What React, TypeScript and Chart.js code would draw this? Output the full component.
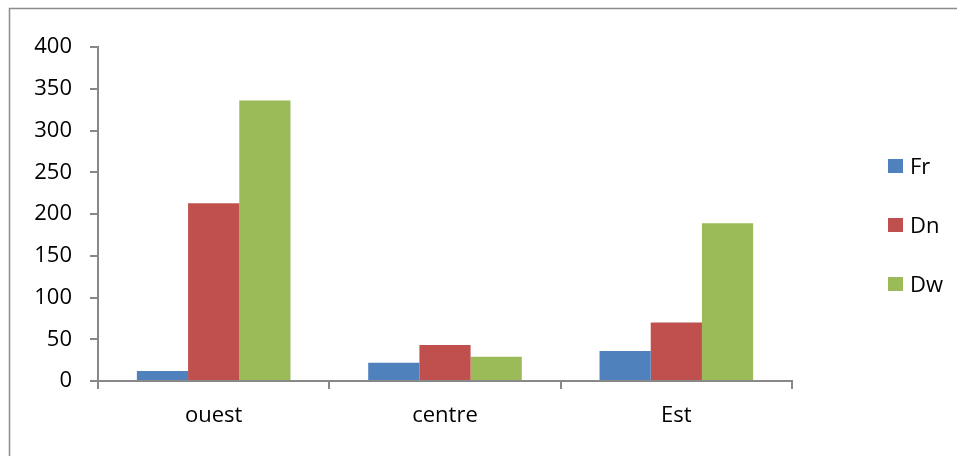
import React, { useEffect, useRef } from "react";
import { Chart, registerables } from "chart.js";

Chart.register(...registerables);

const categories = ["ouest", "centre", "Est"];
const seriesNames = ["Fr", "Dn", "Dw"];
const frValues = [12, 22, 36];
const dnValues = [213, 43, 70];
const dwValues = [336, 29, 189];
const seriesColors = ["#4F81BD", "#C0504D", "#9BBB59"];
const yMin = 0;
const yMax = 400;
const yStep = 50;

const FONT = "'Open Sans', Lato, sans-serif";
const FONT_SIZE = 22;
const AXIS = "#888888";

const framePlugin = {
  id: "frameAndLegend",
  beforeDraw(chart: any) {
    const ctx = chart.ctx;
    ctx.save();
    ctx.strokeStyle = "#8c8c8c";
    ctx.lineWidth = 1.5;
    ctx.beginPath();
    ctx.moveTo(9.5, 470);
    ctx.lineTo(9.5, 8.5);
    ctx.lineTo(970, 8.5);
    ctx.stroke();
    ctx.restore();
  },
  afterDraw(chart: any) {
    const ctx = chart.ctx;
    ctx.save();
    ctx.font = `${FONT_SIZE}px ${FONT}`;
    ctx.textBaseline = "middle";
    ctx.textAlign = "left";
    const startY = 166;
    const gap = 59;
    chart.data.datasets.forEach((ds: any, i: number) => {
      const cy = startY + i * gap;
      ctx.fillStyle = ds.backgroundColor;
      ctx.fillRect(888, cy - 7, 15, 14);
      ctx.fillStyle = "#000";
      ctx.fillText(ds.label, 910, cy + 2);
    });
    ctx.restore();
  },
};

export default function App() {
  const ref = useRef<HTMLCanvasElement>(null);
  useEffect(() => {
    if (!ref.current) return;
    const valuesList = [frValues, dnValues, dwValues];
    const chart = new Chart(ref.current, {
      type: "bar",
      data: {
        labels: categories,
        datasets: seriesNames.map((name, i) => ({
          label: name,
          data: valuesList[i],
          backgroundColor: seriesColors[i],
          borderWidth: 0,
          categoryPercentage: 0.664,
          barPercentage: 1,
        })),
      },
      options: {
        animation: false,
        responsive: false,
        maintainAspectRatio: false,
        layout: { padding: { left: 0, top: 47, right: 165, bottom: 0 } },
        plugins: { legend: { display: false }, tooltip: { enabled: false } },
        scales: {
          x: {
            afterFit(scale: any) {
              scale.height = 75;
            },
            grid: {
              display: true,
              drawOnChartArea: false,
              drawTicks: true,
              tickLength: 8,
              color: AXIS,
              lineWidth: 2,
              offset: true,
            },
            border: { display: true, color: AXIS, width: 2 },
            ticks: {
              color: "#000",
              font: { family: FONT, size: FONT_SIZE },
              padding: 14,
            },
          },
          y: {
            min: yMin,
            max: yMax,
            afterFit(scale: any) {
              scale.width = 98;
            },
            ticks: {
              stepSize: yStep,
              color: "#000",
              font: { family: FONT, size: FONT_SIZE },
              padding: 18,
            },
            grid: {
              display: true,
              drawOnChartArea: false,
              drawTicks: true,
              tickLength: 8,
              color: AXIS,
              lineWidth: 2,
            },
            border: { display: true, color: AXIS, width: 2 },
          },
        },
      },
      plugins: [framePlugin],
    });
    return () => chart.destroy();
  }, []);
  return (
    <div style={{ position: "fixed", left: 0, top: 0, width: 957, height: 456, background: "#fff" }}>
      <canvas ref={ref} width={957} height={456} style={{ display: "block", width: 957, height: 456 }} />
    </div>
  );
}
